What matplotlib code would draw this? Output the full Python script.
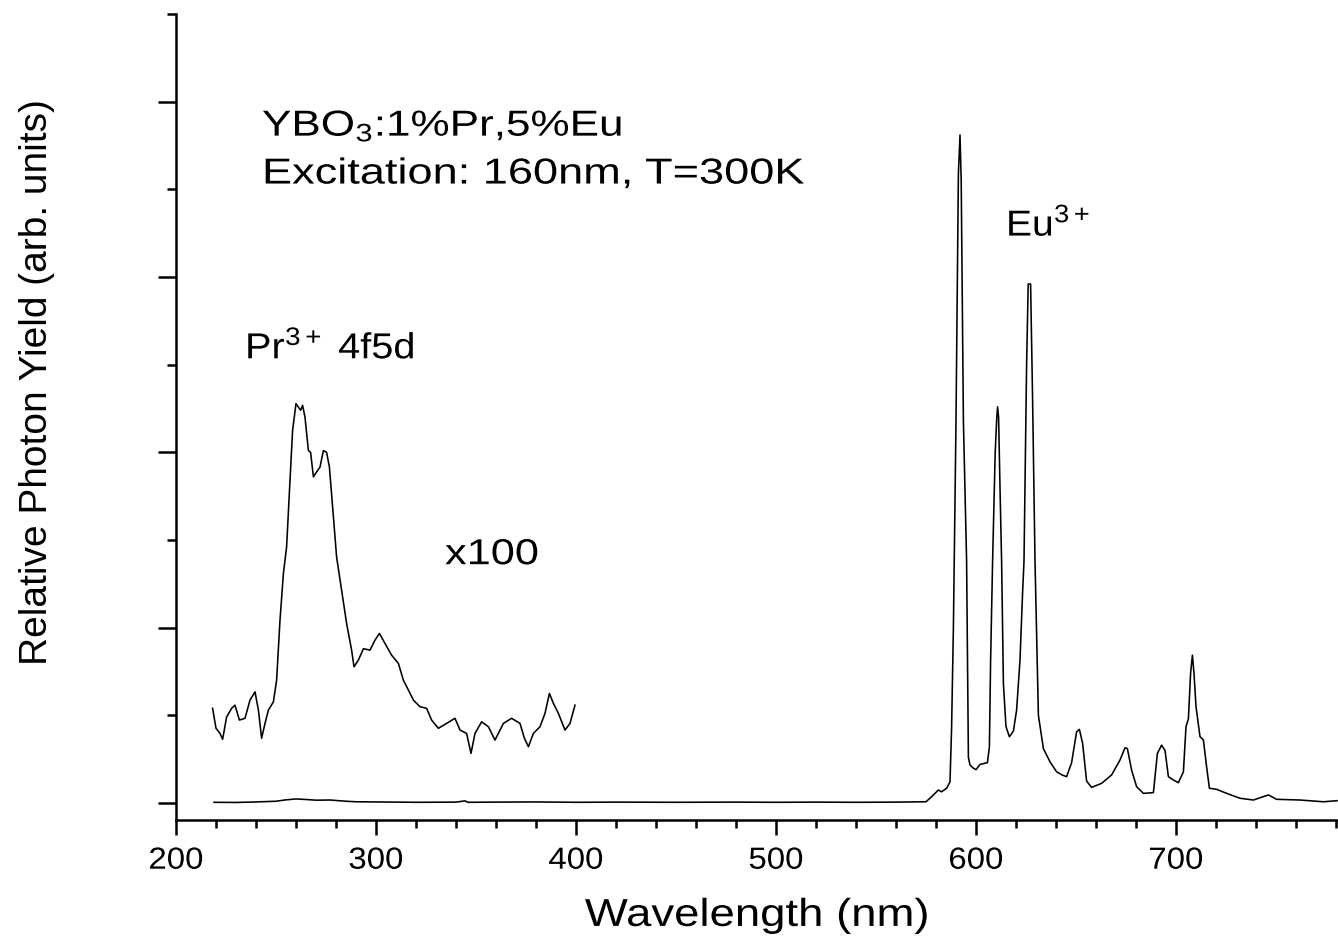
import matplotlib
matplotlib.use('Agg')
import matplotlib.pyplot as plt
from matplotlib.ticker import MultipleLocator, NullFormatter
from matplotlib.patheffects import AbstractPathEffect
from matplotlib.transforms import Affine2D

plt.rcParams['font.family'] = ['Liberation Sans', 'DejaVu Sans']
plt.rcParams['mathtext.fontset'] = 'custom'
plt.rcParams['mathtext.rm'] = 'Liberation Sans'
plt.rcParams['mathtext.it'] = 'Liberation Sans:italic'
plt.rcParams['mathtext.bf'] = 'Liberation Sans:bold'
plt.rcParams['mathtext.default'] = 'regular'

# Full emission spectrum (wavelength nm, relative yield)
wl_main = [219, 230, 240, 250, 255, 260, 265, 270, 277, 285, 290, 300, 320, 340, 344.5, 346,
           360, 380, 400, 420, 450, 480, 500, 520, 540, 560, 575,
           577.8, 581.2, 582.8, 585.3, 587, 587.8, 588.7, 590, 591.2, 592, 592.6, 593.7,
           595.3, 596.2, 597, 598.5, 600, 602, 605.7, 606.7, 607.3, 608.3, 609.6, 610.4,
           610.8, 611.3, 612, 612.8, 613.7, 615, 616.7, 618.7, 620.3, 622, 623.3, 624,
           625.3, 626.1, 627.3, 628.3, 629.5, 631.2, 633.7, 637, 640.3, 643, 645.3, 647.8,
           650.3, 651.7, 653.3, 655.3, 657.8, 662.8, 667.8, 672, 674.5, 675.7, 677.8, 680.3,
           683.7, 688.7, 690.7, 692.8, 694.5, 696.2, 698.7, 701.2, 703.7, 705, 706.2, 707.3,
           708.2, 709, 710, 712, 713.7, 715.3, 716.7, 720.3, 725.3, 732, 738.7, 746.2, 750.3,
           762, 773.7, 780.5]
int_main = [0.004, 0.003, 0.006, 0.010, 0.018, 0.023, 0.020, 0.016, 0.017, 0.010, 0.007, 0.006,
            0.004, 0.005, 0.012, 0.004, 0.005, 0.006, 0.004, 0.005, 0.004, 0.005, 0.004, 0.005,
            0.004, 0.005, 0.007,
            0.036, 0.074, 0.064, 0.084, 0.12, 0.43, 1.0, 2.18, 3.59, 3.81, 3.55, 2.18,
            1.38, 0.26, 0.217, 0.20, 0.19, 0.22, 0.23, 0.32, 0.81, 1.38, 2.0, 2.2,
            2.26, 2.2, 1.8, 1.38, 0.68, 0.435, 0.378, 0.41, 0.53, 0.815, 1.2, 1.38,
            2.5, 2.96, 2.96, 2.3, 1.38, 0.5, 0.31, 0.235, 0.178, 0.16, 0.15, 0.23,
            0.406, 0.42, 0.34, 0.125, 0.089, 0.112, 0.16, 0.245, 0.315, 0.31, 0.188, 0.093,
            0.055, 0.059, 0.283, 0.33, 0.30, 0.15, 0.131, 0.116, 0.178, 0.435, 0.48, 0.74,
            0.843, 0.74, 0.55, 0.378, 0.36, 0.207, 0.084, 0.078, 0.055, 0.027, 0.017, 0.046, 0.021,
            0.017, 0.007, 0.013]

# Pr3+ 4f5d band, magnified x100 and offset
wl_pr = [218.3, 220, 222, 223.3, 225.3, 227.8, 229.5, 231.7, 234.5, 237, 239.5, 241.2, 242.8,
         244.5, 246.2, 248.7, 250.3, 252, 253.7, 255.3, 257, 258.3, 260, 261.2, 262.3, 263.3,
         264.5, 266.2, 267.3, 268.7, 270.3, 272, 273.7, 275.3, 276.7, 278.3, 280.3, 282.8,
         285.3, 287.8, 289, 291.2, 293.7, 297, 299.5, 301.7, 304.5, 307.8, 311.2, 313.7,
         316.2, 318.7, 322, 325.3, 327.8, 331.2, 335.3, 339.5, 342, 345.3, 347.5, 349.5,
         352.8, 356.2, 359.5, 363.7, 367.8, 372, 374.2, 376.2, 378.7, 382, 384.5, 386.7,
         388.7, 391.2, 394.5, 397, 399.5]
int_pr = [0.54, 0.426, 0.397, 0.363, 0.49, 0.54, 0.558, 0.473, 0.483, 0.587, 0.634, 0.53, 0.369,
          0.454, 0.53, 0.577, 0.70, 1.043, 1.309, 1.46, 1.84, 2.125, 2.278, 2.258, 2.24, 2.268,
          2.20, 2.01, 2.0, 1.86, 1.888, 1.916, 2.01, 2.0, 1.916, 1.69, 1.403, 1.214,
          1.024, 0.872, 0.777, 0.815, 0.88, 0.872, 0.929, 0.967, 0.91, 0.843, 0.796, 0.70,
          0.644, 0.587, 0.549, 0.54, 0.473, 0.426, 0.454, 0.483, 0.416, 0.397, 0.283, 0.397,
          0.463, 0.435, 0.359, 0.454, 0.483, 0.454, 0.369, 0.321, 0.397, 0.435, 0.511, 0.625,
          0.568, 0.511, 0.416, 0.454, 0.558]


class HStretch(AbstractPathEffect):
    """Widen rendered text horizontally (mimics the wide letter spacing of the original)."""

    def __init__(self, sx, anchor='left'):
        super().__init__()
        self.sx = sx
        self.anchor = anchor

    def draw_path(self, renderer, gc, tpath, affine, rgbFace=None):
        if self.anchor == 'center':
            ext = tpath.get_extents()
            x0, y0 = affine.transform(((ext.x0 + ext.x1) / 2, 0))
        else:
            x0, y0 = affine.transform((0, 0))
        aff = affine + Affine2D().translate(-x0, -y0).scale(self.sx, 1).translate(x0, y0)
        renderer.draw_path(gc, tpath, aff, rgbFace)


fig = plt.figure(figsize=(13.38, 9.46), dpi=100)
ax = fig.add_axes([176 / 1338, 1 - 820 / 946, 1 - 176 / 1338, (820 - 14) / 946])
ax.plot(wl_main, int_main, color='black', lw=1.15)
ax.plot(wl_pr, int_pr, color='black', lw=1.15)

ax.set_xlim(200, 781)
ax.set_ylim(-0.097, 4.5)
for s in ['top', 'right']:
    ax.spines[s].set_visible(False)
for s in ['left', 'bottom']:
    ax.spines[s].set_linewidth(1.8)

ax.xaxis.set_major_locator(MultipleLocator(100))
ax.xaxis.set_minor_locator(MultipleLocator(20))
ax.yaxis.set_major_locator(MultipleLocator(1))
ax.yaxis.set_minor_locator(MultipleLocator(0.5))
ax.yaxis.set_major_formatter(NullFormatter())
ax.tick_params(axis='x', which='major', direction='out', length=10.5, width=1.8, labelsize=22, pad=8)
ax.tick_params(axis='x', which='minor', direction='out', length=5.5, width=1.8)
ax.tick_params(axis='y', which='major', direction='out', length=13, width=1.8)
ax.tick_params(axis='y', which='minor', direction='out', length=6.5, width=1.8)
for lab in ax.get_xticklabels():
    lab.set_path_effects([HStretch(1.08, 'center')])

xl = ax.set_xlabel('Wavelength (nm)', fontsize=28, labelpad=16)
xl.set_path_effects([HStretch(1.17, 'center')])
ax.set_ylabel('Relative Photon Yield (arb. units)', fontsize=28)
ax.yaxis.set_label_coords(-0.104, 0.543)

t1 = ax.text(243, 3.806, 'YBO$_3$:1%Pr,5%Eu', fontsize=26, ha='left', va='baseline')
t1.set_path_effects([HStretch(1.22)])
t2 = ax.text(243, 3.533, 'Excitation: 160nm, T=300K', fontsize=26, ha='left', va='baseline')
t2.set_path_effects([HStretch(1.25)])
t3 = ax.text(234.5, 2.536, 'Pr$^{3+}$ 4f5d', fontsize=26, ha='left', va='baseline')
t3.set_path_effects([HStretch(1.1)])
t4 = ax.text(334.5, 1.362, 'x100', fontsize=26, ha='left', va='baseline')
t4.set_path_effects([HStretch(1.2)])
t5 = ax.text(615, 3.236, 'Eu$^{3+}$', fontsize=26, ha='left', va='baseline')
t5.set_path_effects([HStretch(1.08)])

fig.savefig('out.png', dpi=100)
